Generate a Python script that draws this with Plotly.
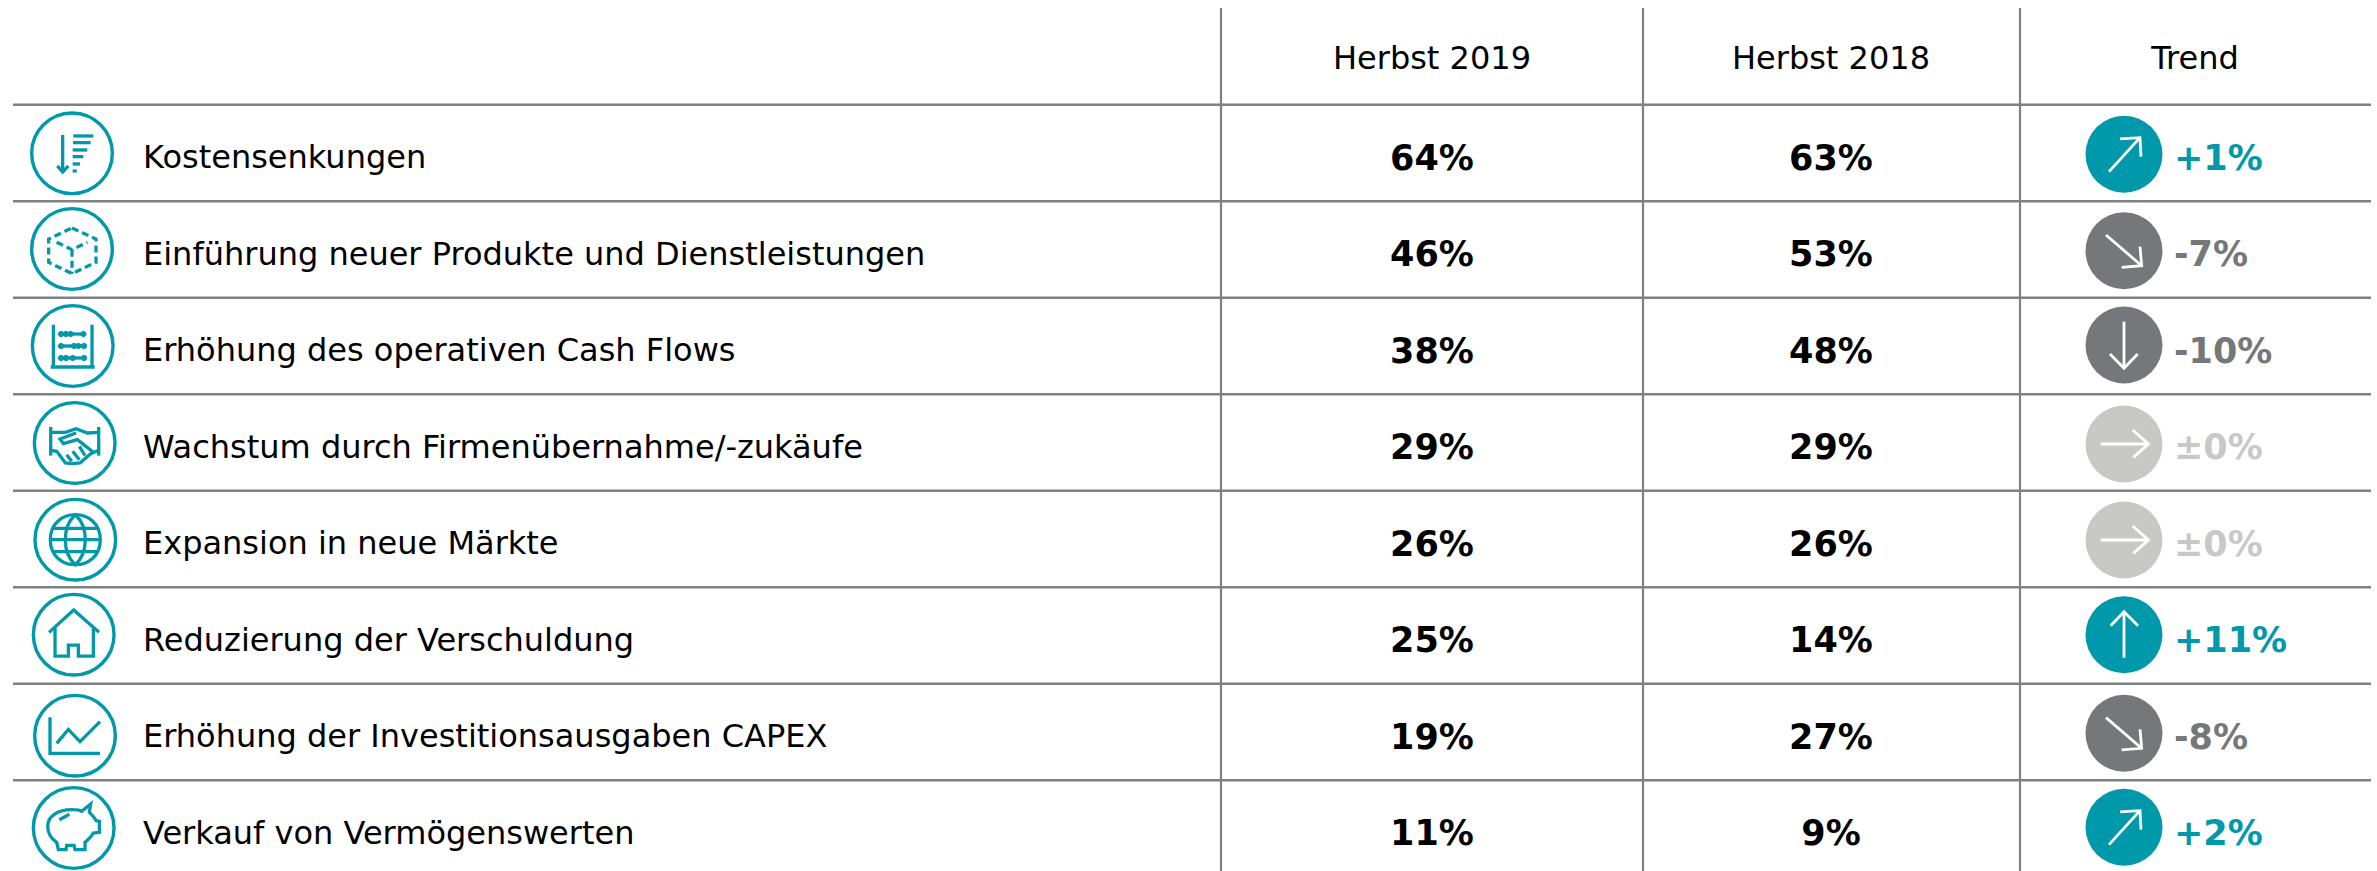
import re
import plotly.graph_objects as go

# ---------- data ----------
categories = [
    "Kostensenkungen",
    "Einführung neuer Produkte und Dienstleistungen",
    "Erhöhung des operativen Cash Flows",
    "Wachstum durch Firmenübernahme/-zukäufe",
    "Expansion in neue Märkte",
    "Reduzierung der Verschuldung",
    "Erhöhung der Investitionsausgaben CAPEX",
    "Verkauf von Vermögenswerten",
]
herbst_2019 = [64, 46, 38, 29, 26, 25, 19, 11]
herbst_2018 = [63, 53, 48, 29, 26, 14, 27, 9]
trend_labels = ["+1%", "-7%", "-10%", "±0%", "±0%", "+11%", "-8%", "+2%"]
trend_dirs = ["ne", "se", "s", "e", "e", "n", "se", "ne"]
headers = ["Herbst 2019", "Herbst 2018", "Trend"]

# ---------- style ----------
W, H = 2377, 871
ROW = 96.5
Y0 = 153.0
TEAL = "#0099AB"
DARK = "#75787B"
LIGHT = "#C8C9C7"
RULE = "#7F8183"
FONT = "DejaVu Sans"
SIZE = 32
BOLD_SIZE = 35
COL_2019, COL_2018, COL_TREND = 1432, 1831, 2195
V_LINES = [1221, 1643, 2020]
LEFT, RIGHT = 13, 2371
ICON_X = [72, 72, 72.7, 74.7, 75.3, 73.7, 75, 73.7]
ICON_DY = [0.3, -0.5, 0, 0.5, 0.7, -0.8, 3.7, -0.5]
TREND_X = 2124
TREND_DY = [1.3, 1.2, -1, 1.5, 1, -0.8, 1.3, -1.2]
HEADER_DY, LABEL_DY, BOLD_DY = 4.5, 7, 8


def color_for(a, b):
    return TEAL if a > b else (DARK if a < b else LIGHT)


colors = [color_for(a, b) for a, b in zip(herbst_2019, herbst_2018)]
rows = list(range(len(categories)))

ICONS = [
    ((216, 190), [
        "M188,135 L188,245", "M172,228 L188,246 L205,228",
        "M220,138 L280,138", "M219,158 L272,158", "M218,180 L262,180",
        "M218,200 L250,200", "M218,222 L240,222", "M218,243 L230,243"]),
    ((216, 478), [
        "DASH M216,415 L288,448 L288,518 L216,552 L146,518 L146,448 Z",
        "DASH M170,458 L216,480 L262,458", "DASH M216,480 L216,552"]),
    ((218, 769), [
        "M160,705 L160,830", "M276,705 L276,830", "M152,832 L284,832",
        "M180,733 L256,733", "M180,769 L256,769", "M180,805 L256,805",
        "O183,733", "O198,733", "O212,733", "O250,733",
        "O183,769", "O222,769", "O235,769", "O252,769",
        "O183,805", "O198,805", "O218,805", "O252,805"]),
    ((224, 190), [
        "M152,142 L152,228", "M296,142 L296,228",
        "M152,158 L196,158 L228,147 L262,160 L296,158",
        "M152,212 L170,215 L196,250 L215,252 L240,250 L272,222 L296,212",
        "M228,160 L180,178 L190,192 L232,180 L280,218",
        "M200,225 L215,245", "M218,215 L238,240", "M238,200 L255,228"]),
    ((226, 479), [
        "M151,479 C151,379 301,379 301,479 C301,579 151,579 151,479 Z",
        "M226,404 C186,440 186,518 226,554 C266,518 266,440 226,404 Z",
        "M160,445 L292,445", "M151,479 L301,479", "M160,515 L292,515"]),
    ((221, 764), [
        "M147,757 L221,690 L297,757",
        "M165,742 L165,828 L205,828 L205,795 L235,795 L235,828 L280,828 L280,742"]),
    ((225, 197), [
        "M150,142 L150,250 L300,250", "M170,220 L205,178 L240,215 L300,155"]),
    ((221, 475), [
        "M272,403 L268,428 C280,440 285,445 288,453 L298,455 L298,488 L280,490 "
        "C272,505 262,512 255,518 L255,540 L225,540 L222,527 L200,527 L198,540 "
        "L175,540 L170,518 C150,505 143,490 143,470 C143,440 175,418 220,420 "
        "C232,420 240,422 245,425 Z",
        "M178,450 L208,434"]),
]

ARROWS = {
    "ne": ((372, 193), ["M327,245 L420,143", "M360,147 L420,143 L423,200"]),
    "se": ((372, 482), ["M318,435 L425,527", "M365,532 L425,527 L420,470"]),
    "s": ((372, 765), ["M372,695 L372,835", "M330,792 L372,835 L413,792"]),
    "e": ((372, 180), ["M302,180 L445,180", "M398,138 L445,180 L400,220"]),
    "n": ((372, 464), ["M372,533 L372,395", "M332,437 L372,395 L414,437"]),
}


def place(path, zc, cx, row, dy):
    toks = re.findall(r"[A-Z]|-?\d+\.?\d*", path)
    out, coord = [], 0
    for t in toks:
        if t.isalpha():
            out.append(t)
        else:
            v = float(t)
            if coord % 2 == 0:
                out.append(f"{cx + (v - zc[0]) / 3:.2f}")
            else:
                out.append(f"{row + (dy + (v - zc[1]) / 3) / ROW:.4f}")
            coord += 1
    return " ".join(out)


shapes = []


def add_path(d, color, width=3.3, dash=None, fill=None):
    line = dict(color=color, width=width)
    if dash:
        line["dash"] = dash
    shapes.append(dict(type="path", xref="x", yref="y", path=d, line=line,
                       fillcolor=fill or "rgba(0,0,0,0)", layer="above"))


def circle_path(x, y, r):
    k = r * 0.5523
    return (f"M{x - r},{y} C{x - r},{y - k} {x - k},{y - r} {x},{y - r} "
            f"C{x + k},{y - r} {x + r},{y - k} {x + r},{y} "
            f"C{x + r},{y + k} {x + k},{y + r} {x},{y + r} "
            f"C{x - k},{y + r} {x - r},{y + k} {x - r},{y} Z")


for i in range(len(categories)):
    shapes.append(dict(type="line", xref="x", yref="y", x0=LEFT, x1=RIGHT,
                       y0=i - 0.5, y1=i - 0.5, line=dict(color=RULE, width=2.5), layer="below"))
y_min = -Y0 / ROW
y_max = (H - Y0) / ROW
for x in V_LINES:
    shapes.append(dict(type="line", xref="x", yref="y", x0=x, x1=x,
                       y0=y_min + 8 / ROW, y1=y_max, line=dict(color=RULE, width=2.2), layer="below"))

for i, (zc, parts) in enumerate(ICONS):
    cx, dy = ICON_X[i], ICON_DY[i]
    add_path(place(circle_path(zc[0], zc[1], 121), zc, cx, i, dy), TEAL, width=3.4)
    for p in parts:
        if p.startswith("O"):
            bx, by = (float(v) for v in p[1:].split(","))
            add_path(place(circle_path(bx, by, 8), zc, cx, i, dy), TEAL, width=1, fill=TEAL)
        elif p.startswith("DASH"):
            add_path(place(p[5:], zc, cx, i, dy), TEAL, dash="7px,4px")
        else:
            add_path(place(p, zc, cx, i, dy), TEAL)

for i, dr in enumerate(trend_dirs):
    zc, parts = ARROWS[dr]
    for p in parts:
        add_path(place(p, zc, TREND_X, i, TREND_DY[i]), "#FFFFFF", width=2.8)

fig = go.Figure()

fig.add_trace(go.Scatter(
    x=[TREND_X] * len(rows),
    y=[r + d / ROW for r, d in zip(rows, TREND_DY)],
    mode="markers",
    marker=dict(size=77, color=colors, line=dict(width=0)),
    showlegend=False, hoverinfo="skip"))

fig.add_trace(go.Scatter(
    x=[COL_2019, COL_2018, COL_TREND], y=[-1.0 + HEADER_DY / ROW] * 3, text=headers, mode="text",
    textposition="middle center",
    textfont=dict(family=FONT, size=SIZE, color="#000000"),
    showlegend=False, hoverinfo="skip"))

fig.add_trace(go.Scatter(
    x=[143] * len(rows), y=[r + LABEL_DY / ROW for r in rows], text=categories, mode="text",
    textposition="middle right",
    textfont=dict(family=FONT, size=SIZE, color="#000000"),
    showlegend=False, hoverinfo="skip"))

for col, vals in ((COL_2019, herbst_2019), (COL_2018, herbst_2018)):
    fig.add_trace(go.Scatter(
        x=[col] * len(rows), y=[r + BOLD_DY / ROW for r in rows],
        text=[f"<b>{v}%</b>" for v in vals], mode="text",
        textposition="middle center",
        textfont=dict(family=FONT, size=BOLD_SIZE, color="#000000"),
        showlegend=False, hoverinfo="skip"))

fig.add_trace(go.Scatter(
    x=[2174] * len(rows), y=[r + BOLD_DY / ROW for r in rows],
    text=[f"<b>{t}</b>" for t in trend_labels], mode="text",
    textposition="middle right",
    textfont=dict(family=FONT, size=BOLD_SIZE, color=colors),
    showlegend=False, hoverinfo="skip"))

fig.update_layout(
    width=W, height=H,
    margin=dict(l=0, r=0, t=0, b=0),
    paper_bgcolor="#FFFFFF", plot_bgcolor="#FFFFFF",
    xaxis=dict(range=[0, W], visible=False, fixedrange=True),
    yaxis=dict(range=[y_max, y_min], visible=False, fixedrange=True),
    shapes=shapes,
    hovermode=False,
)
fig.write_html("out.html", config=dict(displayModeBar=False),
               post_script="document.body.style.margin='0';document.body.style.overflow='hidden';")
